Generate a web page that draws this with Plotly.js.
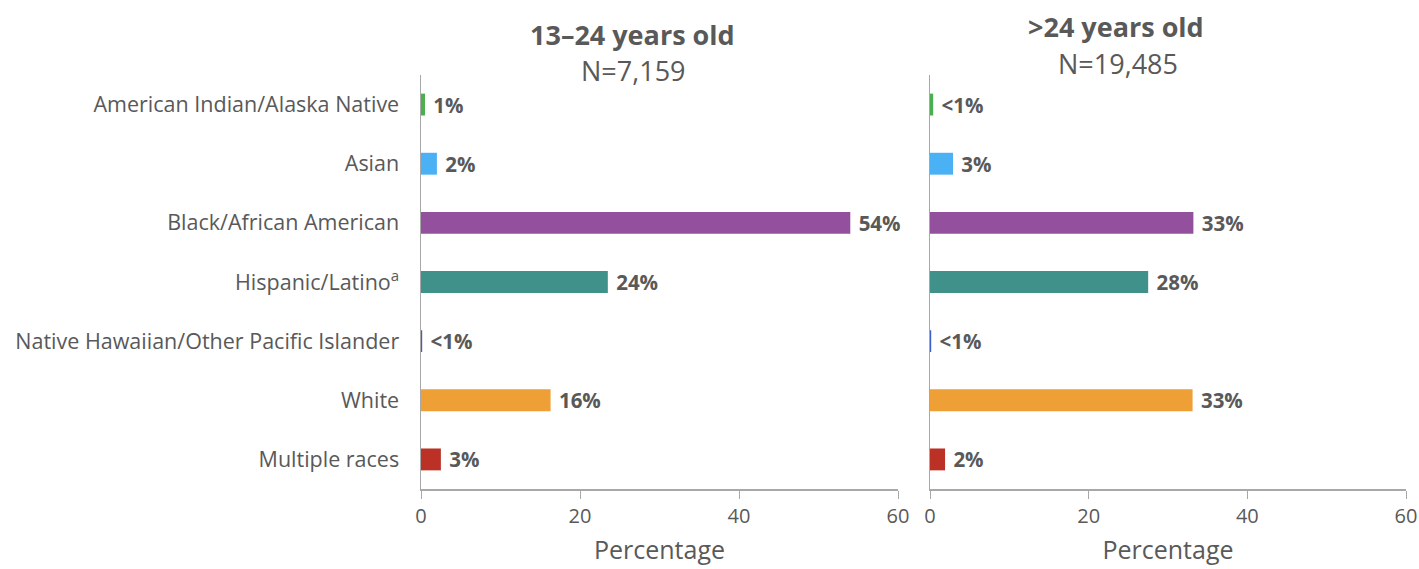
<!DOCTYPE html>
<html>
<head>
<meta charset="utf-8">
<script src="https://cdn.plot.ly/plotly-3.0.1.min.js"></script>
<style>html,body{margin:0;padding:0;background:#fff;}#chart{width:1419px;height:569px;}</style>
</head>
<body>
<div id="chart"></div>
<script>
const categories = ["American Indian/Alaska Native","Asian","Black/African American","Hispanic/Latino<sup>a</sup>","Native Hawaiian/Other Pacific Islander","White","Multiple races"];
const colors = ["#4cae4f","#4ab2f4","#93509d","#41918b","#3b5fc6","#eea037","#bb3125"];
const young = [0.5, 2.0, 54, 23.5, 0.15, 16.3, 2.5];
const youngLabels = ["1%","2%","54%","24%","<1%","16%","3%"];
const older = [0.4, 2.9, 33.2, 27.5, 0.15, 33.1, 1.9];
const olderLabels = ["<1%","3%","33%","28%","<1%","33%","2%"];
const xTicks = [0, 20, 40, 60];
const titles = [["13–24 years old","N=7,159"],[">24 years old","N=19,485"]];

const FONT = "Open Sans, sans-serif";
const GREY = "#595959";
const textFont = {family: FONT, size: 20.5, color: GREY, weight: "bold"};
const pad = s => "\u00a0" + s;

const traces = [
  {type:"bar", orientation:"h", y:categories, x:young, text:youngLabels.map(pad), textposition:"outside", textfont:textFont,
   constraintext:"none", marker:{color:colors}, width:0.37, xaxis:"x", yaxis:"y", cliponaxis:false, hoverinfo:"skip"},
  {type:"bar", orientation:"h", y:categories, x:older, text:olderLabels.map(pad), textposition:"outside", textfont:textFont,
   constraintext:"none", marker:{color:colors}, width:0.37, xaxis:"x2", yaxis:"y2", cliponaxis:false, hoverinfo:"skip"}
];

const xBase = {range:[0,60], tickvals:xTicks, showline:true, linecolor:"#a8a8a8", linewidth:1.5, ticks:"outside", ticklen:8,
  tickcolor:"#a8a8a8", showgrid:false, zeroline:false, tickfont:{family:FONT, size:20, color:GREY},
  title:{text:"Percentage", font:{family:FONT, size:25, color:GREY}, standoff:14}, fixedrange:true};
const yBase = {categoryorder:"array", categoryarray:categories, autorange:"reversed", showline:true, linecolor:"#a8a8a8", linewidth:1.5,
  showgrid:false, zeroline:false, ticks:"", fixedrange:true};

const ann = (text, x, y, size) => ({text:text, x:x/1419, y:1-y/569, xref:"paper", yref:"paper", xanchor:"center", yanchor:"middle",
  showarrow:false, font:{family:FONT, size:size, color:GREY}});

const layout = {
  width:1419, height:569, margin:{l:0,r:0,t:0,b:0}, paper_bgcolor:"#fff", plot_bgcolor:"#fff", showlegend:false,
  xaxis: Object.assign({}, xBase, {domain:[421/1419, 898/1419], anchor:"y"}),
  xaxis2: Object.assign({}, xBase, {domain:[930/1419, 1406/1419], anchor:"y2"}),
  yaxis: Object.assign({}, yBase, {domain:[1-489/569, 1-75/569], anchor:"x", tickfont:{family:FONT, size:21.5, color:GREY}, ticklabelstandoff:16}),
  yaxis2: Object.assign({}, yBase, {domain:[1-489/569, 1-75/569], anchor:"x2", showticklabels:false}),
  annotations: [
    ann("<b>"+titles[0][0]+"</b>", 632, 34, 27),
    ann(titles[0][1], 633, 70, 27),
    ann("<b>"+titles[1][0]+"</b>", 1116, 26, 27),
    ann(titles[1][1], 1118, 64, 27)
  ]
};
Plotly.newPlot("chart", traces, layout, {displayModeBar:false, staticPlot:true});
</script>
</body>
</html>
